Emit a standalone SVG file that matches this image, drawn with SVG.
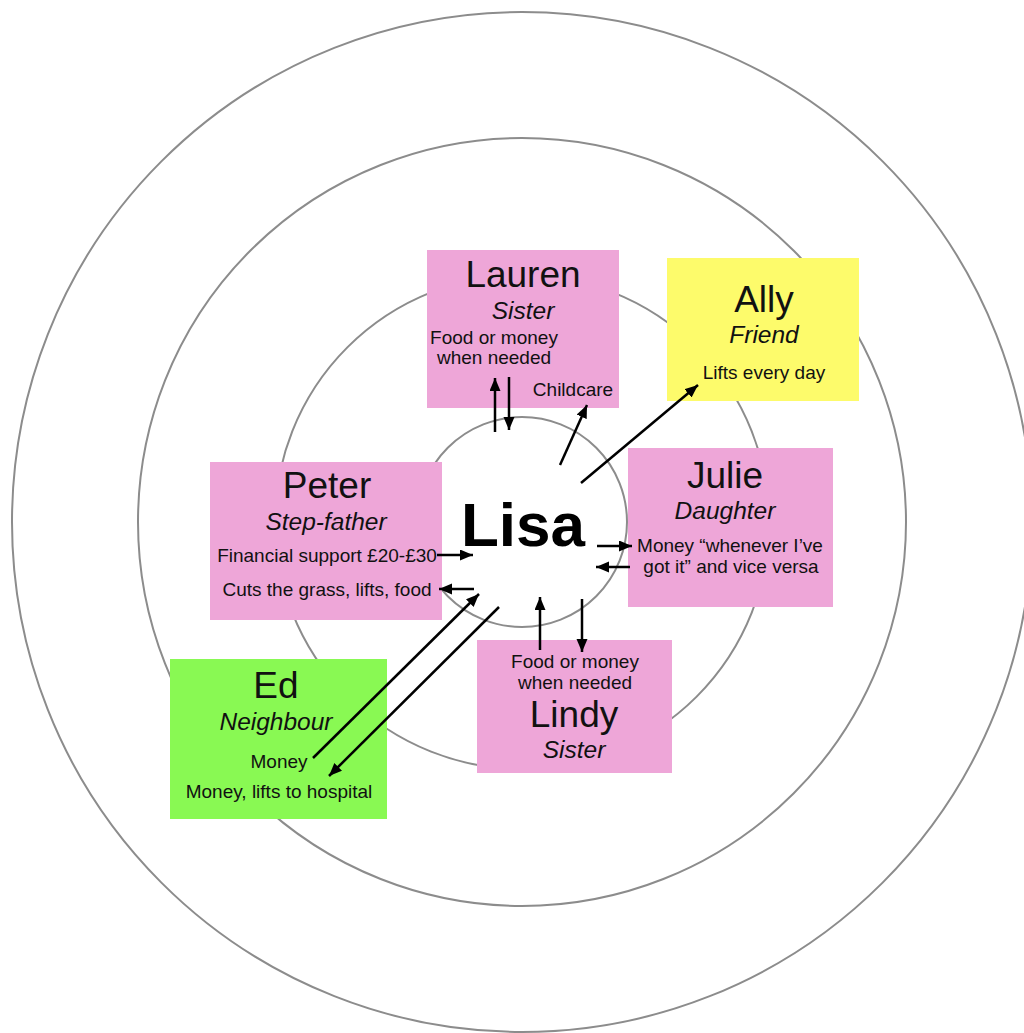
<svg xmlns="http://www.w3.org/2000/svg" width="1024" height="1033" viewBox="0 0 1024 1033">
  <defs>
    <marker id="head" markerUnits="userSpaceOnUse" markerWidth="14" markerHeight="12" refX="13" refY="5.5" orient="auto">
      <path d="M0,0 L13,5.5 L0,11 Z" fill="#000"/>
    </marker>
    <style>
      text { font-family: "Liberation Sans", Arial, Helvetica, sans-serif; fill: #111; text-anchor: middle; }
      .ring { fill: none; stroke: #8c8c8c; stroke-width: 2; }
      .pink { fill: #eea6d8; }
      .yellow { fill: #fdfb6b; }
      .green { fill: #89f953; }
      .name { font-size: 37px; }
      .role { font-size: 24.5px; font-style: italic; }
      .note { font-size: 19px; }
      .centre { font-size: 62px; font-weight: bold; fill: #000; }
      .link { stroke: #000; stroke-width: 2.5; fill: none; marker-end: url(#head); }
    </style>
  </defs>

  <rect width="1024" height="1033" fill="#fff"/>

  <!-- concentric circles of closeness -->
  <g id="rings">
    <circle class="ring" cx="522" cy="522" r="510"/>
    <circle class="ring" cx="522" cy="522" r="384"/>
    <circle class="ring" cx="522" cy="522" r="247"/>
    <circle class="ring" cx="522" cy="522" r="105"/>
  </g>

  <g id="lisa">
    <text class="centre" x="523" y="546">Lisa</text>
  </g>

  <g id="lauren">
    <rect class="pink" x="427" y="250" width="192" height="158"/>
    <text class="name" x="523" y="287">Lauren</text>
    <text class="role" x="523" y="319">Sister</text>
    <text class="note" x="494" y="344">Food or money</text>
    <text class="note" x="494" y="364">when needed</text>
    <text class="note" x="573" y="396">Childcare</text>
  </g>

  <g id="ally">
    <rect class="yellow" x="667" y="258" width="192" height="143"/>
    <text class="name" x="764" y="312">Ally</text>
    <text class="role" x="764" y="343">Friend</text>
    <text class="note" x="764" y="379">Lifts every day</text>
  </g>

  <g id="julie">
    <rect class="pink" x="628" y="448" width="205" height="159"/>
    <text class="name" x="725" y="488">Julie</text>
    <text class="role" x="725" y="519">Daughter</text>
    <text class="note" x="730" y="552">Money “whenever I’ve</text>
    <text class="note" x="731" y="573">got it” and vice versa</text>
  </g>

  <g id="peter">
    <rect class="pink" x="210" y="462" width="232" height="158"/>
    <text class="name" x="327" y="498">Peter</text>
    <text class="role" x="326" y="530">Step-father</text>
    <text class="note" x="327" y="562">Financial support £20-£30</text>
    <text class="note" x="327" y="596">Cuts the grass, lifts, food</text>
  </g>

  <g id="ed">
    <rect class="green" x="170" y="659" width="217" height="160"/>
    <text class="name" x="276" y="698">Ed</text>
    <text class="role" x="276" y="730">Neighbour</text>
    <text class="note" x="279" y="768">Money</text>
    <text class="note" x="279" y="798">Money, lifts to hospital</text>
  </g>

  <g id="lindy">
    <rect class="pink" x="477" y="640" width="195" height="133"/>
    <text class="note" x="575" y="668">Food or money</text>
    <text class="note" x="575" y="689">when needed</text>
    <text class="name" x="574" y="727">Lindy</text>
    <text class="role" x="574" y="758">Sister</text>
  </g>

  <!-- flows of support -->
  <g id="connectors">
    <line class="link" x1="495" y1="432" x2="495" y2="378"/>
    <line class="link" x1="509" y1="377" x2="509" y2="430"/>
    <line class="link" x1="560" y1="465" x2="587" y2="405"/>
    <line class="link" x1="581" y1="483" x2="698" y2="385"/>
    <line class="link" x1="597" y1="546" x2="632" y2="546"/>
    <line class="link" x1="630" y1="567" x2="596" y2="567"/>
    <line class="link" x1="437" y1="555" x2="473" y2="555"/>
    <line class="link" x1="474" y1="589" x2="439" y2="589"/>
    <line class="link" x1="313" y1="758" x2="479" y2="594"/>
    <line class="link" x1="499" y1="607" x2="329" y2="776"/>
    <line class="link" x1="540" y1="650" x2="540" y2="597"/>
    <line class="link" x1="582" y1="599" x2="582" y2="652"/>
  </g>
</svg>
